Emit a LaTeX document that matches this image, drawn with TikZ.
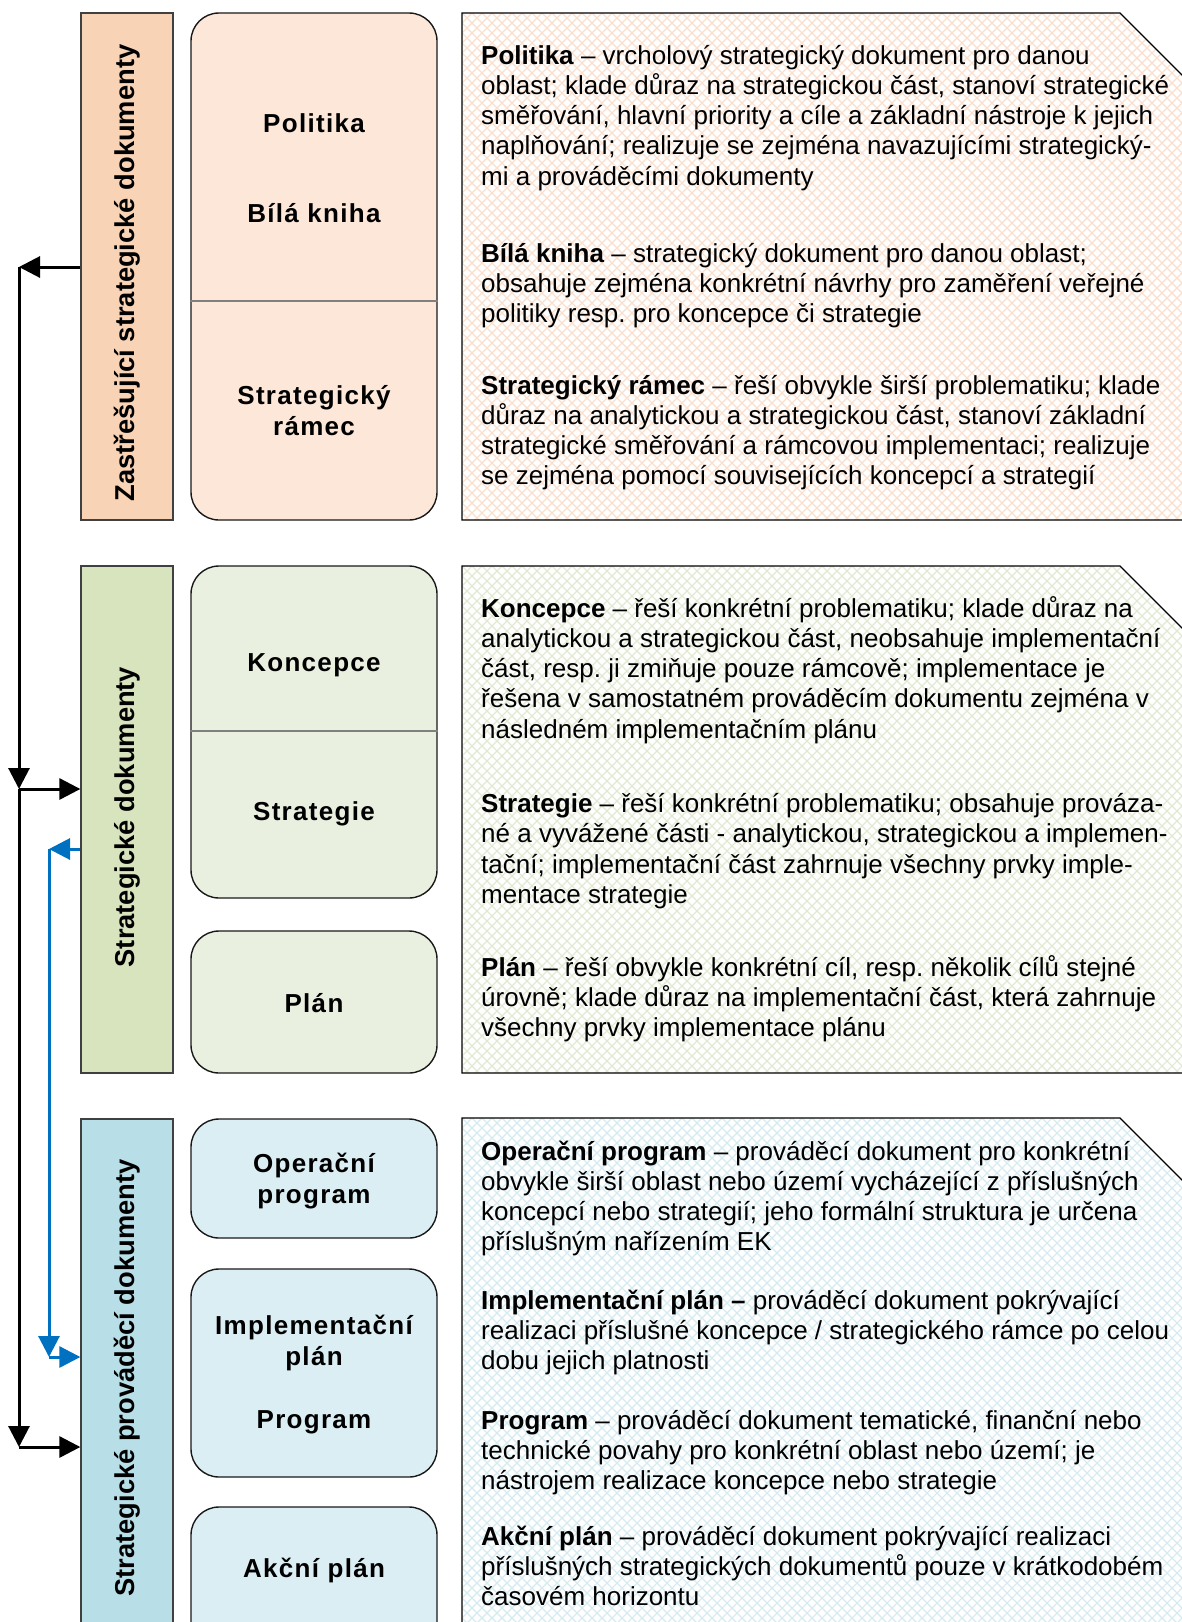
\documentclass[tikz,border=0pt]{standalone}
\usepackage{fontspec}
\setmainfont{Liberation Sans}
\newfontfamily\lblfont[LetterSpace=5]{Liberation Sans}
\usetikzlibrary{arrows.meta}
\frenchspacing
\definecolor{orbarc}{HTML}{F9D3B6}
\definecolor{orboxc}{HTML}{FCE7D9}
\definecolor{orhatch}{HTML}{FADFCC}
\definecolor{grbarc}{HTML}{D8E4BE}
\definecolor{grboxc}{HTML}{EAF0DF}
\definecolor{grhatch}{HTML}{E1E9D2}
\definecolor{blbarc}{HTML}{B8DEE8}
\definecolor{blboxc}{HTML}{DBEEF4}
\definecolor{blhatch}{HTML}{D5EAF1}
\definecolor{arrblue}{HTML}{0070C0}
\newcommand{\hatchpanel}[3]{%
  \begin{scope}
    \clip (462,#1) -- (1120,#1) -- (1200,#1+80) -- (1200,#2) -- (462,#2) -- cycle;
    \foreach \k in {0,...,132} {
      \draw[#3, line width=1.1pt] ({462-570+10*\k},#1) -- ++(570,570);
      \draw[#3, line width=1.1pt] ({462+10*\k},#1) -- ++(-570,570);
    }
  \end{scope}
  \draw[line width=1.3pt] (1200,#2) -- (462,#2) -- (462,#1) -- (1120,#1) -- (1200,#1+80);
}
\begin{document}
\begin{tikzpicture}[x=1pt,y=-1pt,
  barbox/.style={draw=black!75, line width=1.3pt, inner sep=0, minimum width=92pt},
  rbox/.style={draw=black!90, line width=1.4pt, rounded corners=28pt, inner sep=0, minimum width=246pt},
  divider/.style={draw=black!50, line width=1.4pt},
  lbl/.style={anchor=base, align=center, inner sep=0, font=\fontsize{26}{31}\lblfont\bfseries},
  vlbl/.style={rotate=90, inner sep=0, font=\fontsize{27.3}{32}\selectfont\bfseries},
  desc/.style={anchor=base west, align=left, inner sep=0, font=\fontsize{26}{30.3}\selectfont\frenchspacing},
  blk/.style={line width=3pt, -{Triangle[length=21pt,width=21pt]}},
  blu/.style={arrblue, line width=3pt, -{Triangle[length=21pt,width=21pt]}}]
\useasboundingbox (0,0) rectangle (1181,1622);

% description panels
\hatchpanel{13}{520}{orhatch}
\hatchpanel{566}{1073}{grhatch}
\hatchpanel{1118}{1660}{blhatch}

% category bars
\node[barbox, fill=orbarc, minimum height=507pt] (orbar) at (127,266.5) {};
\node[barbox, fill=grbarc, minimum height=507pt] (grbar) at (127,819.5) {};
\node[barbox, fill=blbarc, minimum height=541pt] (blbar) at (127,1389.5) {};
\node[vlbl] (orlbl) at (127,273) {Zastřešující strategické dokumenty};
\node[vlbl] (grlbl) at (127,817) {Strategické dokumenty};
\node[vlbl] (bllbl) at (127,1378) {Strategické prováděcí dokumenty};

% document boxes
\node[rbox, fill=orboxc, minimum height=507pt] (orbox) at (314,266.5) {};
\draw[divider] (orbox.west |- 0,301) -- (orbox.east |- 0,301);
\node[rbox, fill=grboxc, minimum height=332pt] (kbox) at (314,732) {};
\draw[divider] (kbox.west |- 0,731) -- (kbox.east |- 0,731);
\node[rbox, fill=grboxc, minimum height=142pt] (plbox) at (314,1002) {};
\node[rbox, fill=blboxc, minimum height=119pt] (opbox) at (314,1178.5) {};
\node[rbox, fill=blboxc, minimum height=208pt] (ipbox) at (314,1373) {};
\node[rbox, fill=blboxc, minimum height=153pt] (akbox) at (314,1583.5) {};

% labels (two-line labels are placed by the baseline of their last line)
\node[lbl] (l1) at (314,132.6) {Politika};
\node[lbl] (l2) at (314,222) {Bílá kniha};
\node[lbl] (l3) at (314,435.6) {Strategický\\rámec};
\node[lbl] (l4) at (314,671) {Koncepce};
\node[lbl] (l5) at (314,820) {Strategie};
\node[lbl] (l6) at (314,1012) {Plán};
\node[lbl] (l7) at (314,1203) {Operační\\program};
\node[lbl] (l8) at (314,1365) {Implementační\\plán};
\node[lbl] (l9) at (314,1428) {Program};
\node[lbl] (l10) at (314,1577) {Akční plán};

% descriptions (placed by the baseline of their last line)
\node[desc] (p1) at (481,185.2) {\textbf{Politika} – vrcholový strategický dokument pro danou\\oblast; klade důraz na strategickou část, stanoví strategické\\směřování, hlavní priority a cíle a základní nástroje k jejich\\naplňování; realizuje se zejména navazujícími strategický-\\mi a prováděcími dokumenty};
\node[desc] (p2) at (481,322.6) {\textbf{Bílá kniha} – strategický dokument pro danou oblast;\\obsahuje zejména konkrétní návrhy pro zaměření veřejné\\politiky resp. pro koncepce či strategie};
\node[desc] (p3) at (481,484.9) {\textbf{Strategický rámec} – řeší obvykle širší problematiku; klade\\důraz na analytickou a strategickou část, stanoví základní\\strategické směřování a rámcovou implementaci; realizuje\\se zejména pomocí souvisejících koncepcí a strategií};
\node[desc] (p4) at (481,738.2) {\textbf{Koncepce} – řeší konkrétní problematiku; klade důraz na\\analytickou a strategickou část, neobsahuje implementační\\část, resp. ji zmiňuje pouze rámcově; implementace je\\řešena v samostatném prováděcím dokumentu zejména v\\následném implementačním plánu};
\node[desc] (p5) at (481,903.4) {\textbf{Strategie} – řeší konkrétní problematiku; obsahuje prováza-\\né a vyvážené části - analytickou, strategickou a implemen-\\tační; implementační část zahrnuje všechny prvky imple-\\mentace strategie};
\node[desc] (p6) at (481,1036.6) {\textbf{Plán} – řeší obvykle konkrétní cíl, resp. několik cílů stejné\\úrovně; klade důraz na implementační část, která zahrnuje\\všechny prvky implementace plánu};
\node[desc] (p7) at (481,1250.9) {\textbf{Operační program} – prováděcí dokument pro konkrétní\\obvykle širší oblast nebo území vycházející z příslušných\\koncepcí nebo strategií; jeho formální struktura je určena\\příslušným nařízením EK};
\node[desc] (p8) at (481,1369.6) {\textbf{Implementační plán –} prováděcí dokument pokrývající\\realizaci příslušné koncepce / strategického rámce po celou\\dobu jejich platnosti};
\node[desc] (p9) at (481,1489.6) {\textbf{Program} – prováděcí dokument tematické, finanční nebo\\technické povahy pro konkrétní oblast nebo území; je\\nástrojem realizace koncepce nebo strategie};
\node[desc] (p10) at (481,1605.6) {\textbf{Akční plán} – prováděcí dokument pokrývající realizaci\\příslušných strategických dokumentů pouze v krátkodobém\\časovém horizontu};

% connectors
\coordinate (j1) at (19,267);
\coordinate (j2) at (19,789);
\coordinate (j3) at (19,1447);
\coordinate (b1) at (49,849);
\coordinate (b2) at (49,1357);
\draw[blk] (orbar.west |- j1) -- (j1);
\draw[blk] (j1) -- (j2);
\draw[blk] (j2) -- (grbar.west |- j2);
\draw[blk] (j2) -- (j3);
\draw[blk] (j3) -- (blbar.west |- j3);
\draw[blu] (grbar.west |- b1) -- (b1);
\draw[blu] (b1) -- (b2);
\draw[blu] (b2) -- (blbar.west |- b2);
\end{tikzpicture}
\end{document}
